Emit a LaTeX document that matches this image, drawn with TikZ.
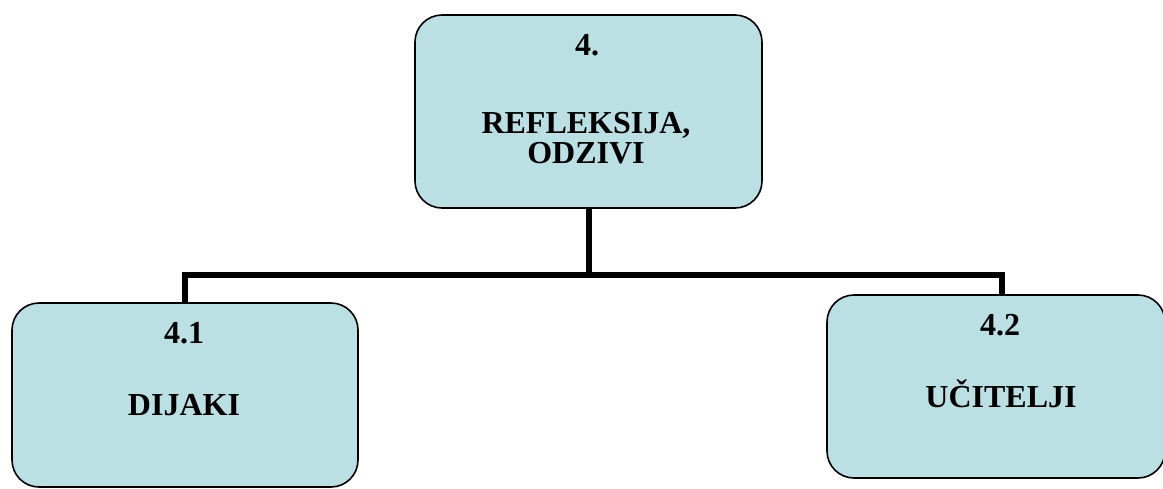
\documentclass[tikz,border=0pt]{standalone}
\usepackage{fontspec}
\setmainfont{Liberation Serif}
\definecolor{boxfill}{RGB}{187,224,227}
\begin{document}
\begin{tikzpicture}[x=1pt,y=-1pt,
  box/.style={draw=black,line width=1.6pt,fill=boxfill,rounded corners=27pt,inner sep=0pt},
  conn/.style={draw=black,line width=6pt,line join=miter},
  lbl/.style={anchor=base,inner sep=0pt,font=\fontsize{32}{36}\selectfont\bfseries}]
\useasboundingbox (0,0) rectangle (1163,488);
\begin{scope}
\clip (0,0) rectangle (1163,488);
\node[box,minimum width=347pt,minimum height=193pt] (top) at (588.5,111.5) {};
\node[box,minimum width=346pt,minimum height=184pt] (left) at (185,395) {};
\node[box,minimum width=338pt,minimum height=183pt] (right) at (996,386.5) {};
\coordinate (j) at (588.5,275);
\draw[conn] (top.south) -- (j);
\draw[conn] (left.north) |- (j) -| ([xshift=6pt]right.north);
\end{scope}
\node[lbl] (t1) at (587,55) {4.};
\node[lbl] (t2) at (586,133) {REFLEKSIJA,};
\node[lbl] (t3) at (586,163) {ODZIVI};
\node[lbl] (l1) at (184,343) {4.1};
\node[lbl] (l2) at (184,415) {DIJAKI};
\node[lbl] (r1) at (1000,335) {4.2};
\node[lbl] (r2) at (1001,407) {UČITELJI};
\end{tikzpicture}
\end{document}
